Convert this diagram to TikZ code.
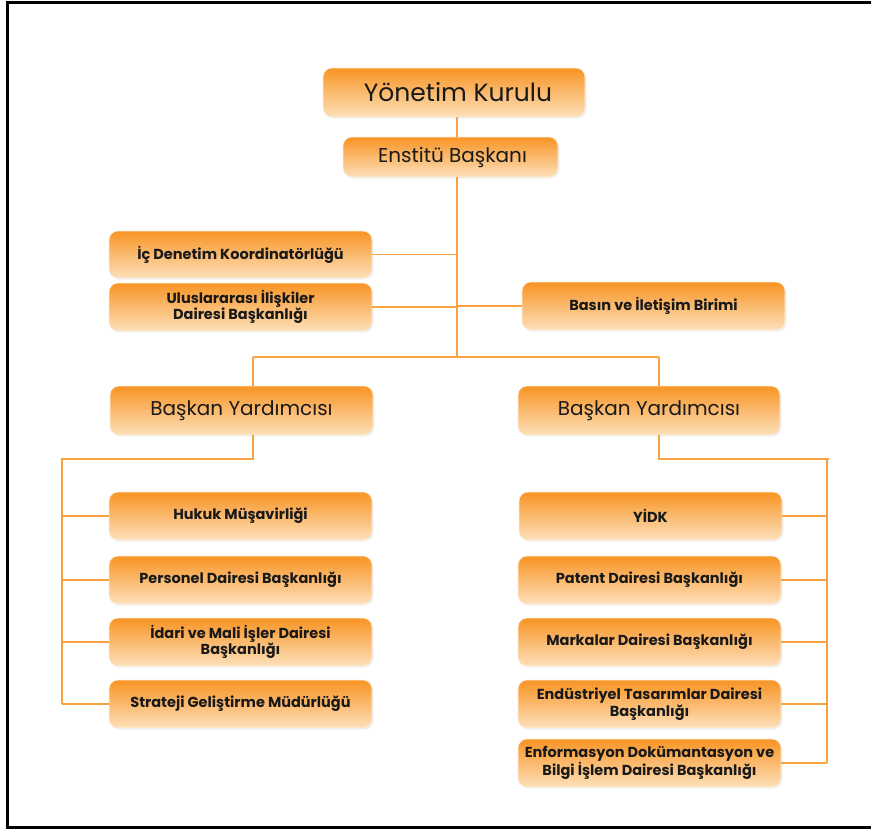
\documentclass[tikz,border=0pt]{standalone}
\usepackage{fontspec}
\setmainfont{Poppins}
\usetikzlibrary{shadows}
\definecolor{boxtop}{RGB}{248,148,36}
\definecolor{boxbot}{RGB}{253,224,186}
\definecolor{lineor}{RGB}{247,162,62}
\definecolor{txt}{RGB}{25,25,25}
\tikzset{
  orgbox/.style={rounded corners=9pt, top color=boxtop, bottom color=boxbot,
    draw=boxbot!50!white, line width=0.6pt, inner sep=0pt, align=center,
    text=txt, minimum width=263pt, minimum height=48pt,
    font=\bfseries\fontsize{14.5}{16.5}\selectfont,
    drop shadow={opacity=0.12, shadow xshift=1.5pt, shadow yshift=-1.5pt}},
  bigtext/.style={font=\fontsize{25}{28}\selectfont},
  midtext/.style={font=\fontsize{20}{23}\selectfont},
  conn/.style={draw=lineor, line width=1.4pt}
}
\begin{document}
\begin{tikzpicture}[x=1pt,y=-1pt]
\useasboundingbox (0,0) rectangle (871,830);
\fill[white] (0,0) rectangle (871,830);
\draw[line width=3pt] (872,2.5) -- (7.5,2.5) -- (7.5,827) -- (872,827);

% nodes
\node[orgbox, bigtext, minimum width=262pt, minimum height=49pt] (yk) at (454,92.5) {\hspace*{8pt}Yönetim Kurulu};
\node[orgbox, midtext, minimum width=215pt, minimum height=40pt] (eb) at (450.5,157) {\hspace*{4pt}Enstitü Başkanı};
\node[orgbox, minimum height=47pt] (ic) at (240.5,254.5) {İç Denetim Koordinatörlüğü};
\node[orgbox] (ul) at (240.5,307) {Uluslararası İlişkiler\\Dairesi Başkanlığı};
\node[orgbox] (bi) at (653.5,306) {Basın ve İletişim Birimi};
\node[orgbox, midtext, minimum height=49pt] (byl) at (241.5,410.5) {Başkan Yardımcısı};
\node[orgbox, midtext, minimum width=262pt, minimum height=49pt] (byr) at (649,410.5) {Başkan Yardımcısı};

\node[orgbox] (hk) at (240.5,516) {Hukuk Müşavirliği};
\node[orgbox] (pd) at (240.5,580) {Personel Dairesi Başkanlığı};
\node[orgbox] (id) at (240.5,642) {İdari ve Mali İşler Dairesi\\Başkanlığı};
\node[orgbox] (sg) at (240.5,704) {Strateji Geliştirme Müdürlüğü};

\node[orgbox] (yidk) at (650.5,516) {YİDK};
\node[orgbox] (pt) at (649.5,580) {Patent Dairesi Başkanlığı};
\node[orgbox] (mk) at (649.5,642) {Markalar Dairesi Başkanlığı};
\node[orgbox] (et) at (649.5,704) {Endüstriyel Tasarımlar Dairesi\\Başkanlığı};
\node[orgbox] (en) at (649.5,763) {Enformasyon Dokümantasyon ve\\Bilgi İşlem Dairesi Başkanlığı};

% helper coordinates
\coordinate (tx) at (457,0);
\coordinate (lx1) at (253,0);
\coordinate (rx1) at (659,0);
\coordinate (lx) at (62,0);
\coordinate (rx) at (827,0);
\coordinate (jc) at (457,357);
\coordinate (jl) at (253,357);
\coordinate (jr) at (659,357);
\coordinate (lb) at (253,459);
\coordinate (ll) at (62,459);
\coordinate (rb) at (659,459);
\coordinate (rr) at (829,459);
\coordinate (rt) at (827,459);

% connectors
\draw[conn] (yk.south -| tx) -- (eb.north -| tx);
\draw[conn] (eb.south -| tx) -- (jc);
\draw[conn] (ic.east) -- (ic.east -| tx);
\draw[conn] (ul.east) -- (ul.east -| tx);
\draw[conn] (bi.west) -- (bi.west -| tx);
\draw[conn] (jl) -- (jr);
\draw[conn] (jl) -- (byl.north -| lx1);
\draw[conn] (jr) -- (byr.north -| rx1);

\draw[conn] (byl.south -| lx1) -- (lb) -- (ll) -- (sg.west -| lx);
\draw[conn] (hk.west) -- (hk.west -| lx);
\draw[conn] (pd.west) -- (pd.west -| lx);
\draw[conn] (id.west) -- (id.west -| lx);
\draw[conn] (sg.west) -- (sg.west -| lx);

\draw[conn] (byr.south -| rx1) -- (rb) -- (rr);
\draw[conn] (rt) -- (en.east -| rx);
\draw[conn] (yidk.east) -- (yidk.east -| rx);
\draw[conn] (pt.east) -- (pt.east -| rx);
\draw[conn] (mk.east) -- (mk.east -| rx);
\draw[conn] (et.east) -- (et.east -| rx);
\draw[conn] (en.east) -- (en.east -| rx);
\end{tikzpicture}
\end{document}
